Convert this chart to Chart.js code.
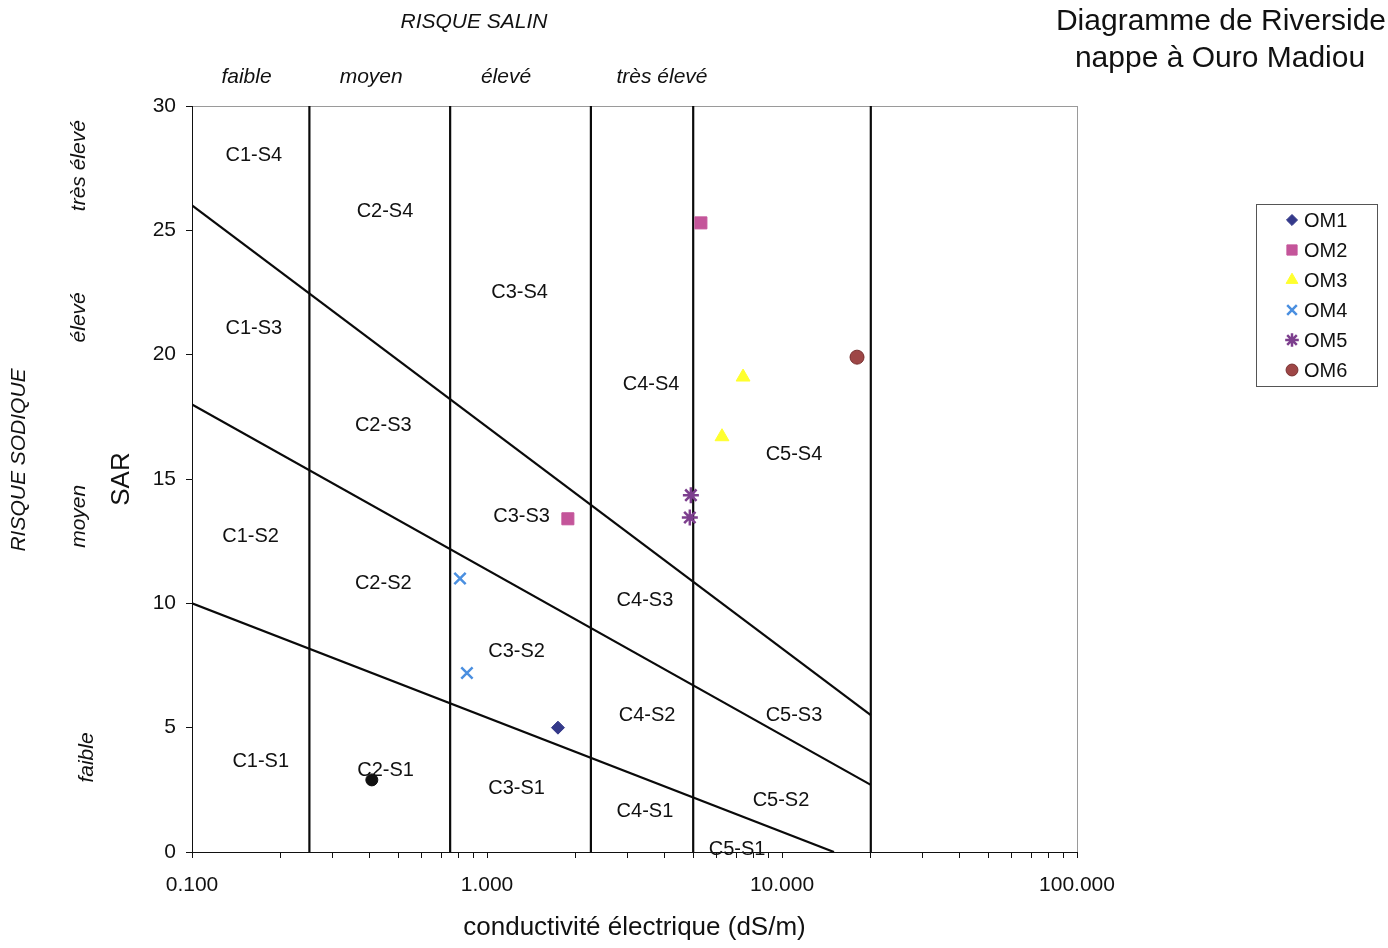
<!DOCTYPE html>
<html lang="fr">
<head>
<meta charset="utf-8">
<title>Diagramme de Riverside</title>
<script src="https://cdn.jsdelivr.net/npm/chart.js@4.4.1/dist/chart.umd.min.js"></script>
<style>
  body { margin: 0; background: #fff; }
  #riverside { display: block; }
</style>
</head>
<body>
<canvas id="riverside" width="1388" height="948"></canvas>
<script>
// salinity class limits (dS/m)
const salinityLimits = [0.25, 0.75, 2.25, 5, 20];

// sodium hazard boundaries, start/end points
const sodiumLineEC = [[0.1, 15], [0.1, 20], [0.1, 20]];
const sodiumLineSAR = [[10, 0], [18, 2.7], [26, 5.5]];

// samples
const sampleNames = ['OM1', 'OM2', 'OM3', 'OM4', 'OM5', 'OM6'];
const sampleEC = [[1.74], [5.31, 1.88], [7.38, 6.26], [0.81, 0.855], [4.91, 4.87], [17.96]];
const sampleSAR = [[5.0], [25.3, 13.4], [19.1, 16.7], [11.0, 7.2], [14.35, 13.45], [19.9]];
const sampleColors = ['#34398a', '#c4559a', '#ffff2e', '#4a8fe0', '#7d3f8e', '#9e4646'];
const sampleShapes = ['rectRot', 'rect', 'triangle', 'crossRot', 'star', 'circle'];
const sampleSizes = [6.5, 8.5, 8, 8, 8, 7];

// extra point (not in legend)
const extraEC = [0.407];
const extraSAR = [2.9];

// class zone names
const zoneNames = ['C1-S4', 'C1-S3', 'C1-S2', 'C1-S1',
                   'C2-S4', 'C2-S3', 'C2-S2', 'C2-S1',
                   'C3-S4', 'C3-S3', 'C3-S2', 'C3-S1',
                   'C4-S4', 'C4-S3', 'C4-S2', 'C4-S1',
                   'C5-S4', 'C5-S3', 'C5-S2', 'C5-S1'];
const zoneEC = [0.162, 0.162, 0.158, 0.171,
                0.451, 0.445, 0.445, 0.453,
                1.29, 1.31, 1.26, 1.26,
                3.60, 3.43, 3.49, 3.43,
                10.98, 10.98, 9.92, 7.04];
const zoneSAR = [28.0, 21.07, 12.7, 3.62,
                 25.77, 17.17, 10.78, 3.26,
                 22.5, 13.5, 8.08, 2.57,
                 18.82, 10.13, 5.47, 1.61,
                 16.0, 5.47, 2.09, 0.12];

const riskLevels = ['faible', 'moyen', 'élevé', 'très élevé'];
const salinLevelEC = [0.153, 0.405, 1.16, 3.92];
const sodiumLevelSAR = [3.8, 13.5, 21.5, 27.6];

const xMajorTicks = [0.1, 1, 10, 100];
const yTicks = [0, 5, 10, 15, 20, 25, 30];

const FONT = "'Liberation Sans', Arial, Helvetica, sans-serif";

// log axis ticks: 1..9 per decade
const xTickValues = [];
xMajorTicks.forEach((d, i) => {
    if (i === xMajorTicks.length - 1) { xTickValues.push(d); return; }
    for (let k = 1; k <= 9; k++) xTickValues.push(+(d * k).toPrecision(6));
});

const markerBorder = i => i === 5 ? '#7a3232' : sampleColors[i];
const markerWidth = i => (i === 3 || i === 4) ? 2.5 : 1;

const datasets = [];

sampleNames.forEach((name, i) => {
    datasets.push({
        label: name,
        data: sampleEC[i].map((x, j) => ({ x: x, y: sampleSAR[i][j] })),
        pointStyle: sampleShapes[i],
        pointRadius: sampleSizes[i],
        backgroundColor: sampleColors[i],
        borderColor: markerBorder(i),
        borderWidth: markerWidth(i),
        showLine: false,
        order: 0
    });
});

datasets.push({
    label: '',
    data: extraEC.map((x, j) => ({ x: x, y: extraSAR[j] })),
    pointStyle: 'circle',
    pointRadius: 6,
    backgroundColor: '#111',
    borderColor: '#111',
    showLine: false,
    order: 0
});

salinityLimits.forEach(ec => {
    datasets.push({
        label: '',
        data: [{ x: ec, y: 0 }, { x: ec, y: 30 }],
        showLine: true,
        borderColor: '#0a0a0a',
        borderWidth: 2.2,
        pointRadius: 0,
        order: 5
    });
});

sodiumLineEC.forEach((xs, i) => {
    datasets.push({
        label: '',
        data: xs.map((x, j) => ({ x: x, y: sodiumLineSAR[i][j] })),
        showLine: true,
        borderColor: '#0a0a0a',
        borderWidth: 2.2,
        pointRadius: 0,
        order: 5
    });
});

// plot border, zone names, risk labels, title and legend
const riversideDecor = {
    id: 'riversideDecor',
    beforeDraw(chart) {
        const { ctx, chartArea: a } = chart;
        ctx.save();
        ctx.fillStyle = '#fff';
        ctx.fillRect(0, 0, chart.width, chart.height);
        ctx.strokeStyle = '#9a9a9a';
        ctx.lineWidth = 1;
        ctx.strokeRect(a.left + 0.5, a.top + 0.5, a.right - a.left, a.bottom - a.top);
        ctx.restore();
    },
    afterDatasetsDraw(chart) {
        const { ctx, scales: { x, y } } = chart;
        ctx.save();
        ctx.fillStyle = '#111';
        ctx.textAlign = 'center';
        ctx.textBaseline = 'middle';

        ctx.font = '20px ' + FONT;
        zoneNames.forEach((name, i) => {
            ctx.fillText(name, x.getPixelForValue(zoneEC[i]), y.getPixelForValue(zoneSAR[i]));
        });

        // salinity risk
        ctx.font = 'italic 21px ' + FONT;
        ctx.fillText('RISQUE SALIN', 474, 22);
        riskLevels.forEach((lvl, i) => {
            ctx.fillText(lvl, x.getPixelForValue(salinLevelEC[i]), 77);
        });

        // sodium risk
        ctx.save();
        ctx.translate(19, 460);
        ctx.rotate(-Math.PI / 2);
        ctx.fillText('RISQUE SODIQUE', 0, 0);
        ctx.restore();
        riskLevels.forEach((lvl, i) => {
            ctx.save();
            ctx.translate(i === 0 ? 87 : 79, y.getPixelForValue(sodiumLevelSAR[i]));
            ctx.rotate(-Math.PI / 2);
            ctx.fillText(lvl, 0, 0);
            ctx.restore();
        });

        // title
        ctx.font = '30px ' + FONT;
        ctx.fillText('Diagramme de Riverside', 1221, 22);
        ctx.fillText('nappe à Ouro Madiou', 1220, 59);

        // legend
        ctx.strokeStyle = '#555';
        ctx.lineWidth = 1;
        ctx.strokeRect(1256.5, 204.5, 121, 182);
        ctx.font = '20px ' + FONT;
        ctx.textAlign = 'left';
        sampleNames.forEach((name, i) => {
            const ly = 220 + i * 30;
            ctx.fillStyle = sampleColors[i];
            ctx.strokeStyle = markerBorder(i);
            ctx.lineWidth = markerWidth(i);
            Chart.helpers.drawPoint(ctx, {
                pointStyle: sampleShapes[i],
                radius: sampleSizes[i] * 0.85,
                rotation: 0,
                borderWidth: ctx.lineWidth
            }, 1292, ly);
            ctx.fillStyle = '#111';
            ctx.fillText(name, 1304, ly + 1);
        });
        ctx.restore();
    }
};

const chart = new Chart(document.getElementById('riverside'), {
    type: 'scatter',
    data: { datasets: datasets },
    options: {
        responsive: false,
        animation: false,
        events: [],
        devicePixelRatio: 1,
        layout: { padding: { left: 0, top: 106, right: 311, bottom: 0 } },
        plugins: {
            legend: { display: false },
            tooltip: { enabled: false },
            title: { display: false }
        },
        scales: {
            x: {
                type: 'logarithmic',
                min: 0.1,
                max: 100,
                afterBuildTicks: scale => {
                    scale.ticks = xTickValues.map(v => ({ value: v, major: xMajorTicks.includes(v) }));
                },
                afterFit: scale => { scale.height = 96; },
                grid: { display: true, drawOnChartArea: false, drawTicks: true, tickLength: 6, color: '#111' },
                border: { display: true, color: '#111', width: 1 },
                ticks: {
                    autoSkip: false,
                    maxRotation: 0,
                    padding: 15,
                    color: '#111',
                    font: { family: FONT, size: 21 },
                    callback: v => xMajorTicks.includes(v) ? v.toFixed(3) : ''
                },
                title: {
                    display: true,
                    text: 'conductivité électrique (dS/m)',
                    color: '#111',
                    font: { family: FONT, size: 26 },
                    padding: { top: 0, bottom: 5 }
                }
            },
            y: {
                min: 0,
                max: 30,
                afterBuildTicks: scale => {
                    scale.ticks = yTicks.map(v => ({ value: v }));
                },
                afterFit: scale => { scale.width = 192; },
                grid: { display: true, drawOnChartArea: false, drawTicks: true, tickLength: 6, color: '#111' },
                border: { display: true, color: '#111', width: 1 },
                ticks: {
                    padding: 10,
                    color: '#111',
                    font: { family: FONT, size: 21 }
                },
                title: {
                    display: true,
                    text: 'SAR',
                    color: '#111',
                    font: { family: FONT, size: 26 },
                    padding: { top: 106, bottom: 0 }
                }
            }
        }
    },
    plugins: [riversideDecor]
});
</script>
</body>
</html>
